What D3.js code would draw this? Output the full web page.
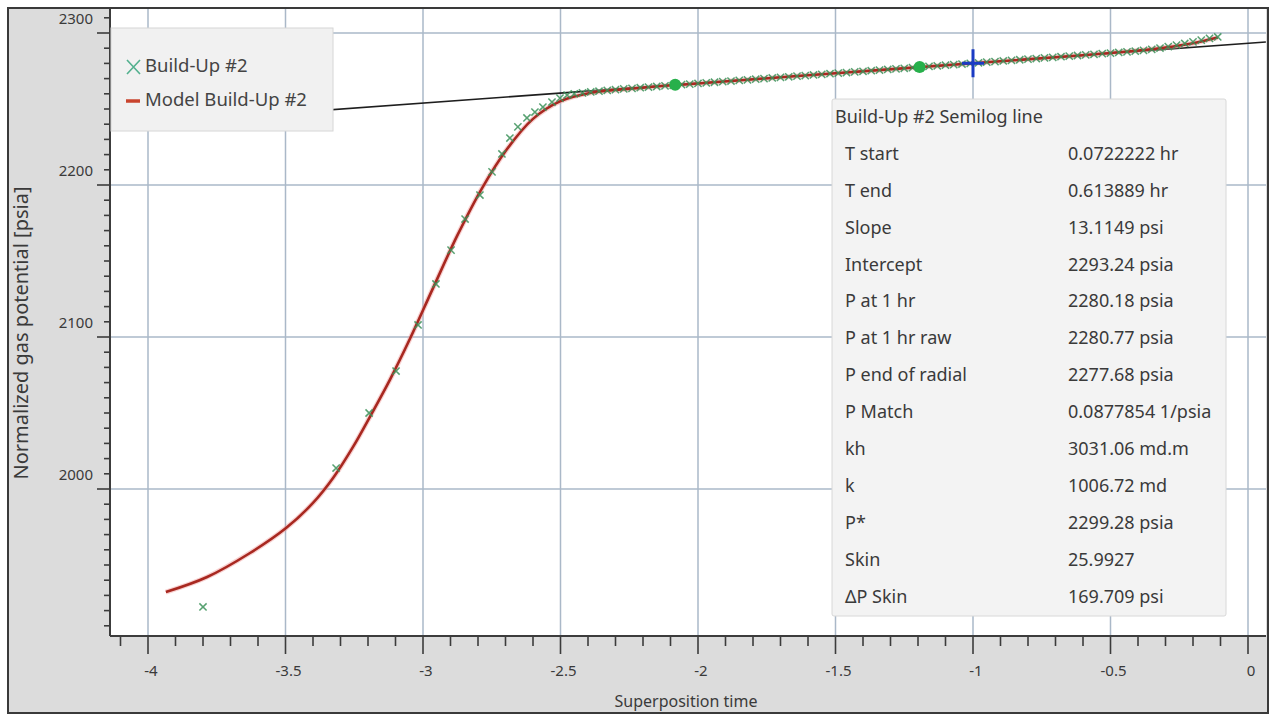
<!DOCTYPE html>
<html>
<head>
<meta charset="utf-8">
<script src="https://cdn.jsdelivr.net/npm/d3@7"></script>
<style>
  html, body { margin: 0; padding: 0; background: #ffffff; }
  svg { display: block; font-family: "Noto Sans", "Open Sans", sans-serif; }
</style>
</head>
<body>
<svg id="chart" width="1273" height="718"></svg>
<script>
// ---- Axis ticks ----
const xTickValues = [-4, -3.5, -3, -2.5, -2, -1.5, -1, -0.5, 0];
const xTickLabels = ["-4", "-3.5", "-3", "-2.5", "-2", "-1.5", "-1", "-0.5", "0"];
const yTickValues = [2000, 2100, 2200, 2300];
const yTickLabels = ["2000", "2100", "2200", "2300"];

// ---- Measured build-up data (superposition time, normalized gas potential) ----
const dataX = [-3.800, -3.316, -3.196, -3.098, -3.018, -2.953, -2.898, -2.847, -2.793, -2.749,
  -2.713, -2.684, -2.655, -2.622, -2.593, -2.564, -2.531, -2.502, -2.476, -2.45,
  -2.42, -2.39, -2.36, -2.33, -2.30, -2.27, -2.24, -2.21, -2.18, -2.15,
  -2.12, -2.09, -2.06, -2.03, -2.00, -1.97, -1.94, -1.91, -1.88, -1.85,
  -1.82, -1.79, -1.76, -1.73, -1.70, -1.67, -1.64, -1.61, -1.58, -1.55,
  -1.52, -1.49, -1.46, -1.43, -1.40, -1.37, -1.34, -1.31, -1.28, -1.25,
  -1.22, -1.19, -1.16, -1.13, -1.10, -1.07, -1.04, -1.01, -0.98, -0.95,
  -0.92, -0.89, -0.86, -0.83, -0.80, -0.77, -0.74, -0.71, -0.68, -0.65,
  -0.62, -0.59, -0.56, -0.53, -0.50, -0.47, -0.44, -0.41, -0.38, -0.35,
  -0.32, -0.29, -0.26, -0.23, -0.20, -0.17, -0.14, -0.11];
const dataY = [1922.4, 2013.8, 2050.0, 2077.6, 2107.9, 2134.9, 2157.2, 2177.6, 2193.4, 2208.6,
  2220.4, 2230.9, 2238.2, 2244.1, 2248.0, 2251.3, 2254.6, 2257.2, 2259.2, 2260.0,
  2260.6, 2261.2, 2261.7, 2262.2, 2262.7, 2263.2, 2263.6, 2264.0, 2264.4, 2264.8,
  2265.2, 2265.6, 2266.0, 2266.4, 2266.8, 2267.2, 2267.6, 2268.0, 2268.4, 2268.8,
  2269.2, 2269.6, 2270.0, 2270.4, 2270.8, 2271.2, 2271.6, 2272.0, 2272.4, 2272.8,
  2273.2, 2273.6, 2274.0, 2274.4, 2274.8, 2275.2, 2275.6, 2276.0, 2276.4, 2276.8,
  2277.2, 2277.6, 2278.0, 2278.4, 2278.8, 2279.2, 2279.6, 2280.0, 2280.4, 2280.8,
  2281.2, 2281.6, 2282.0, 2282.4, 2282.8, 2283.2, 2283.6, 2284.0, 2284.4, 2284.8,
  2285.2, 2285.6, 2286.0, 2286.4, 2286.8, 2287.2, 2287.6, 2288.0, 2288.6, 2289.3,
  2290.1, 2291.0, 2292.0, 2293.1, 2294.2, 2295.3, 2296.5, 2297.4];

// ---- Model build-up response ----
const modelX = [-3.935, -3.785, -3.629, -3.498, -3.400, -3.327, -3.255, -3.193, -3.120, -3.047,
  -2.964, -2.876, -2.785, -2.695, -2.600, -2.502, -2.393, -2.2, -2.0, -1.5,
  -1.0, -0.6, -0.4, -0.3, -0.2, -0.11];
const modelY = [1932.2, 1942.1, 1957.9, 1974.3, 1990.8, 2007.2, 2027.5, 2047.5, 2072.0, 2099.0,
  2132.0, 2166.5, 2198.0, 2223.5, 2243.5, 2255.0, 2260.5, 2264.0, 2266.8, 2273.5,
  2280.1, 2285.4, 2288.5, 2290.5, 2293.3, 2297.0];

// ---- Semilog straight line ----
const semilogSlope = 13.1149;       // psi per cycle
const semilogIntercept = 2293.24;   // psia
const semilogRangeX = [-4.14, 0.065];
const radialMarkerX = [-2.083, -1.194];  // T start, T end
const pAt1hrX = -1;
const pAt1hr = 2280.18;

// ---- Results panel ----
const resultTitle = "Build-Up #2 Semilog line";
const resultLabels = ["T start", "T end", "Slope", "Intercept", "P at 1 hr", "P at 1 hr raw",
  "P end of radial", "P Match", "kh", "k", "P*", "Skin", "ΔP Skin"];
const resultValues = ["0.0722222 hr", "0.613889 hr", "13.1149 psi", "2293.24 psia", "2280.18 psia",
  "2280.77 psia", "2277.68 psia", "0.0877854 1/psia", "3031.06 md.m", "1006.72 md",
  "2299.28 psia", "25.9927", "169.709 psi"];

// ---- Legend ----
const legendNames = ["Build-Up #2", "Model Build-Up #2"];

// ---------------------------------------------------------------
const svg = d3.select("#chart");
const plot = { left: 110, right: 1266, top: 9, bottom: 636 };

const x = d3.scaleLinear().domain([-4, 0]).range([148, 1248]);
const y = d3.scaleLinear().domain([2000, 2300]).range([489, 33]);

const dataColor = "#3a9058";
const modelColor = "#a82820";
const gridColor = "#aab8c8";
const textColor = "#3a3a3a";

// Frame and gray surround
svg.append("rect").attr("x", 8).attr("y", 8).attr("width", 1260).attr("height", 705)
  .attr("fill", "#dcdcdc").attr("stroke", "#3a3a3a").attr("stroke-width", 2);

// White plotting area
svg.append("rect").attr("x", plot.left).attr("y", plot.top)
  .attr("width", plot.right - plot.left).attr("height", plot.bottom - plot.top)
  .attr("fill", "#ffffff");

svg.append("clipPath").attr("id", "plotClip").append("rect")
  .attr("x", plot.left).attr("y", plot.top)
  .attr("width", plot.right - plot.left).attr("height", plot.bottom - plot.top);

const g = svg.append("g").attr("clip-path", "url(#plotClip)");

// Grid
g.selectAll("line.vgrid").data(xTickValues).join("line")
  .attr("class", "vgrid")
  .attr("x1", d => x(d)).attr("x2", d => x(d))
  .attr("y1", plot.top).attr("y2", plot.bottom)
  .attr("stroke", gridColor).attr("stroke-width", 1.5);
g.selectAll("line.hgrid").data(yTickValues).join("line")
  .attr("class", "hgrid")
  .attr("x1", plot.left).attr("x2", plot.right)
  .attr("y1", d => y(d)).attr("y2", d => y(d))
  .attr("stroke", gridColor).attr("stroke-width", 1.5);

// Semilog line
const semilog = semilogRangeX.map(t => [t, semilogIntercept + semilogSlope * t]);
g.append("line")
  .attr("x1", x(semilog[0][0])).attr("y1", y(semilog[0][1]))
  .attr("x2", x(semilog[1][0])).attr("y2", y(semilog[1][1]))
  .attr("stroke", "#1e1e1e").attr("stroke-width", 1.6);

// Model curve (soft halo + core)
const modelPts = modelX.map((t, i) => [t, modelY[i]]);
const modelLine = d3.line().x(d => x(d[0])).y(d => y(d[1])).curve(d3.curveCatmullRom.alpha(0.5));
g.append("path").datum(modelPts).attr("d", modelLine)
  .attr("fill", "none").attr("stroke", "#f09a9a").attr("stroke-width", 5).attr("stroke-opacity", 0.45);
g.append("path").datum(modelPts).attr("d", modelLine)
  .attr("fill", "none").attr("stroke", modelColor).attr("stroke-width", 2.6);

// Measured data as small crosses
const dataPts = dataX.map((t, i) => [t, dataY[i]]);
const xs = 3.6;
const markers = g.append("g").attr("stroke", dataColor).attr("stroke-width", 1.5)
  .attr("fill", "none").attr("stroke-opacity", 0.85);
markers.selectAll("path").data(dataPts).join("path")
  .attr("d", d => {
    const cx = x(d[0]), cy = y(d[1]);
    return `M${cx - xs},${cy - xs}L${cx + xs},${cy + xs}M${cx - xs},${cy + xs}L${cx + xs},${cy - xs}`;
  });

// Radial flow start / end markers on the semilog line
g.selectAll("circle.radial").data(radialMarkerX).join("circle")
  .attr("class", "radial")
  .attr("cx", d => x(d)).attr("cy", d => y(semilogIntercept + semilogSlope * d))
  .attr("r", 6).attr("fill", "#27b04b");

// P at 1 hr cross
const pcx = x(pAt1hrX), pcy = y(pAt1hr);
g.append("path")
  .attr("d", `M${pcx},${pcy - 14}L${pcx},${pcy + 14}M${pcx - 11},${pcy}L${pcx + 11},${pcy}`)
  .attr("stroke", "#1a3bc4").attr("stroke-width", 3);

// Axes lines
svg.append("line").attr("x1", plot.left).attr("x2", plot.left)
  .attr("y1", plot.top).attr("y2", plot.bottom)
  .attr("stroke", "#3c3c3c").attr("stroke-width", 2);
svg.append("line").attr("x1", plot.left).attr("x2", plot.right)
  .attr("y1", plot.bottom).attr("y2", plot.bottom)
  .attr("stroke", "#3c3c3c").attr("stroke-width", 2);

// X axis ticks
const xMinor = d3.range(-41, 1).map(v => v / 10);
svg.append("g").selectAll("line").data(xMinor).join("line")
  .attr("x1", d => x(d)).attr("x2", d => x(d))
  .attr("y1", plot.bottom).attr("y2", d => plot.bottom + (Math.abs(d * 2 - Math.round(d * 2)) < 1e-6 ? 18 : 10))
  .attr("stroke", "#3c3c3c").attr("stroke-width", 1.6);
svg.append("g").selectAll("text").data(xTickValues).join("text")
  .attr("x", d => x(d) + 3).attr("y", 672)
  .attr("text-anchor", "middle").attr("dominant-baseline", "middle")
  .attr("font-size", 15).attr("fill", textColor)
  .text((d, i) => xTickLabels[i]);

// Y axis ticks
const yMinor = d3.range(191, 232).map(v => v * 10);
svg.append("g").selectAll("line").data(yMinor).join("line")
  .attr("y1", d => y(d)).attr("y2", d => y(d))
  .attr("x1", plot.left).attr("x2", d => plot.left - (d % 100 === 0 ? 13 : 6))
  .attr("stroke", "#3c3c3c").attr("stroke-width", 1.6);
svg.append("g").selectAll("text").data(yTickValues).join("text")
  .attr("x", 93).attr("y", d => y(d) - 13)
  .attr("text-anchor", "end").attr("dominant-baseline", "middle")
  .attr("font-size", 15).attr("fill", textColor)
  .text((d, i) => yTickLabels[i]);

// Axis titles
svg.append("text").attr("x", 686).attr("y", 703)
  .attr("text-anchor", "middle").attr("dominant-baseline", "middle")
  .attr("font-size", 16).attr("fill", textColor).text("Superposition time");
svg.append("text")
  .attr("transform", "translate(23,333) rotate(-90)")
  .attr("text-anchor", "middle").attr("dominant-baseline", "middle")
  .attr("font-size", 20).attr("fill", textColor).text("Normalized gas potential [psia]");

// Legend
const leg = svg.append("g");
leg.append("rect").attr("x", 111).attr("y", 28).attr("width", 222).attr("height", 103)
  .attr("fill", "#f1f1f1").attr("stroke", "#d6d6d6");
const legY = [67, 101];
leg.append("path")
  .attr("d", `M${127},${legY[0] - 7}L${140},${legY[0] + 7}M${127},${legY[0] + 7}L${140},${legY[0] - 7}`)
  .attr("stroke", "#52b08e").attr("stroke-width", 1.6).attr("fill", "none");
leg.append("line").attr("x1", 126).attr("x2", 140).attr("y1", legY[1]).attr("y2", legY[1])
  .attr("stroke", "#c9442e").attr("stroke-width", 3.5);
leg.selectAll("text").data(legendNames).join("text")
  .attr("x", 145).attr("y", (d, i) => legY[i])
  .attr("dominant-baseline", "middle").attr("font-size", 18.5).attr("fill", "#444")
  .text(d => d);

// Results panel
const panel = svg.append("g");
panel.append("rect").attr("x", 832).attr("y", 99).attr("width", 394).attr("height", 517)
  .attr("fill", "#f3f3f3").attr("stroke", "#d8d8d8").attr("rx", 2);
panel.append("text").attr("x", 835).attr("y", 118)
  .attr("dominant-baseline", "middle").attr("font-size", 18).attr("fill", textColor)
  .text(resultTitle);
const rowY = i => 155 + i * 36.9;
panel.selectAll("text.lab").data(resultLabels).join("text")
  .attr("class", "lab").attr("x", 845).attr("y", (d, i) => rowY(i))
  .attr("dominant-baseline", "middle").attr("font-size", 18).attr("fill", textColor)
  .text(d => d);
panel.selectAll("text.val").data(resultValues).join("text")
  .attr("class", "val").attr("x", 1068).attr("y", (d, i) => rowY(i))
  .attr("dominant-baseline", "middle").attr("font-size", 18).attr("fill", textColor)
  .text(d => d);
</script>
</body>
</html>
